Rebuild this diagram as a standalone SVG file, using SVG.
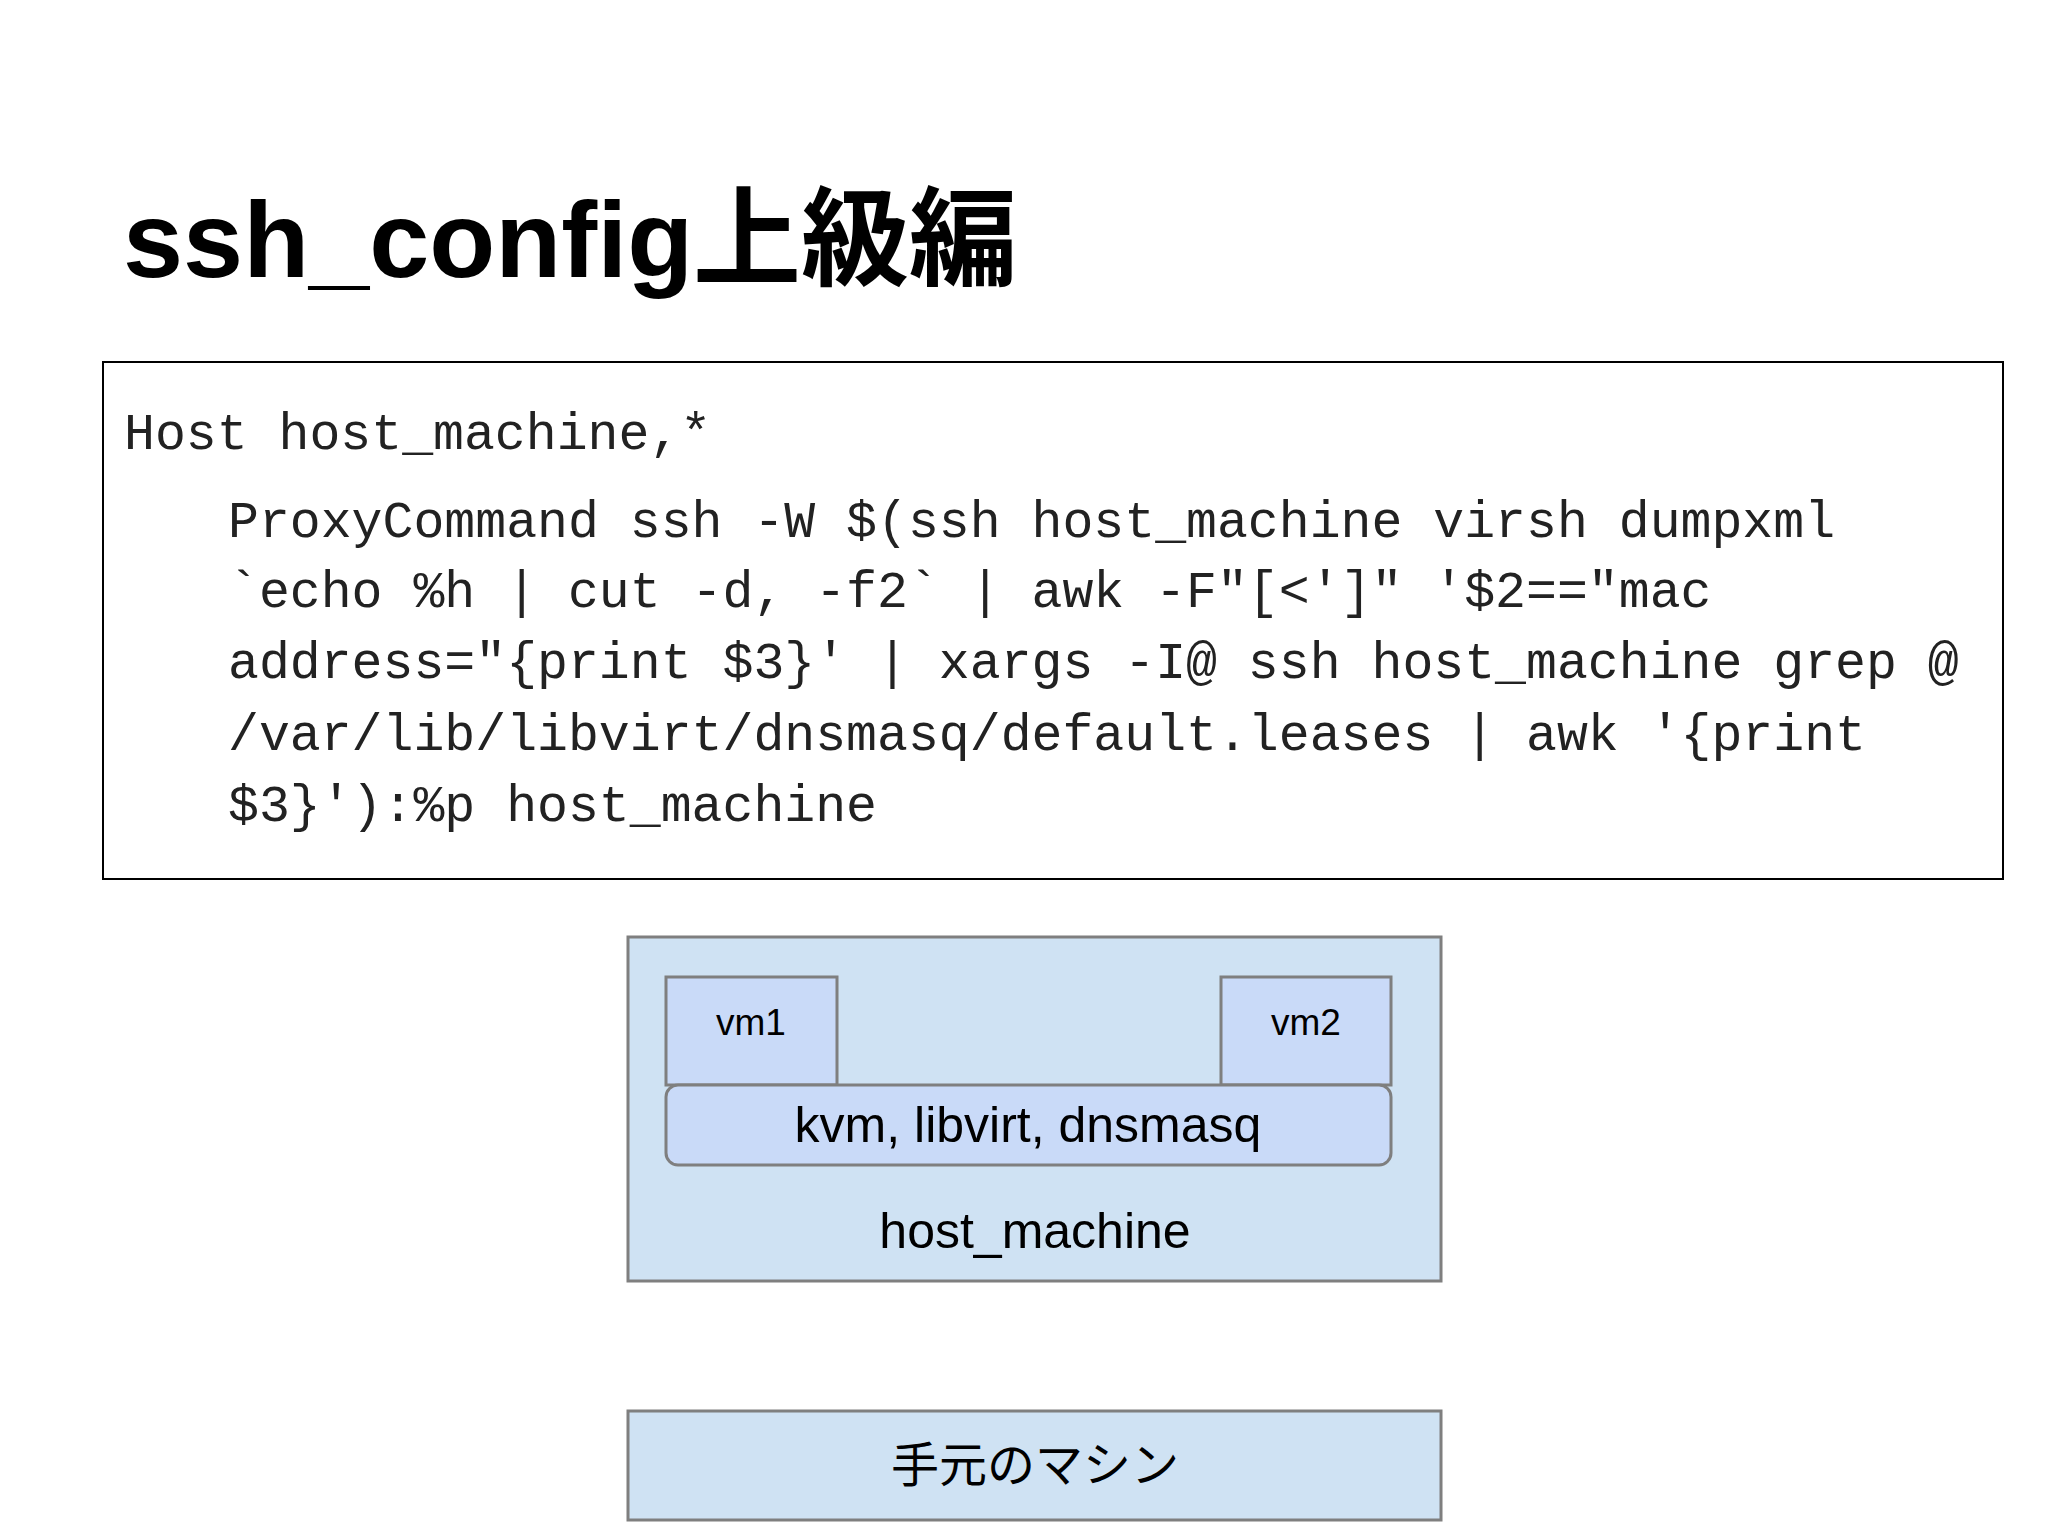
<svg xmlns="http://www.w3.org/2000/svg" width="2048" height="1536" viewBox="0 0 2048 1536">
<style>
.code{font-family:"Liberation Mono","DejaVu Sans Mono",monospace;font-size:51.5px;fill:#222}
.lbl{font-family:"Liberation Sans","Noto Sans CJK JP",sans-serif;fill:#000;text-anchor:middle}
.box{fill:#cfe2f3;stroke:#7f7f7f;stroke-width:3}
.vm{fill:#c9daf8;stroke:#7f7f7f;stroke-width:3}
</style>
<rect width="2048" height="1536" fill="#fff"/>
<text x="123" y="277" font-family="Liberation Sans,Noto Sans CJK JP,sans-serif" font-weight="bold" font-size="108" fill="#000">ssh_config上級編</text>
<g id="code">
<rect x="103" y="362" width="1900" height="517" fill="#fff" stroke="#000" stroke-width="2"/>
<text class="code" x="124" y="449">Host host_machine,*</text>
<text class="code" x="228" y="537">ProxyCommand ssh -W $(ssh host_machine virsh dumpxml</text>
<text class="code" x="228" y="607">`echo %h | cut -d, -f2` | awk -F"[&lt;']" '$2=="mac</text>
<text class="code" x="228" y="678">address="{print $3}' | xargs -I@ ssh host_machine grep @</text>
<text class="code" x="228" y="750">/var/lib/libvirt/dnsmasq/default.leases | awk '{print</text>
<text class="code" x="228" y="821">$3}'):%p host_machine</text>
</g>
<g id="host_machine">
<rect class="box" x="628" y="937" width="813" height="344"/>
<text class="lbl" x="1035" y="1248" font-size="50">host_machine</text>
</g>
<g id="vm1">
<rect class="vm" x="666" y="977" width="171" height="108"/>
<text class="lbl" x="751" y="1035" font-size="37">vm1</text>
</g>
<g id="vm2">
<rect class="vm" x="1221" y="977" width="170" height="108"/>
<text class="lbl" x="1306" y="1035" font-size="37">vm2</text>
</g>
<g id="kvm">
<rect class="vm" x="666" y="1085" width="725" height="80" rx="12"/>
<text class="lbl" x="1028" y="1142" font-size="50">kvm, libvirt, dnsmasq</text>
</g>
<g id="local">
<rect class="box" x="628" y="1411" width="813" height="109"/>
<text class="lbl" x="1035" y="1482" font-size="48">手元のマシン</text>
</g>
<g id="connectors"/>
</svg>
